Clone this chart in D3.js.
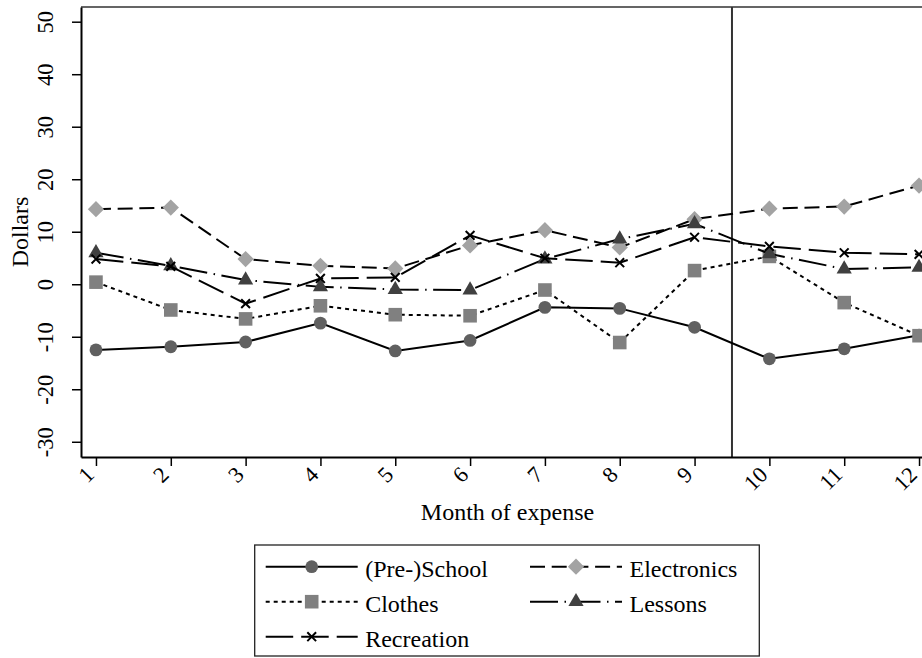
<!DOCTYPE html>
<html>
<head>
<meta charset="utf-8">
<script src="https://cdn.jsdelivr.net/npm/d3@7"></script>
<style>
  html, body { margin: 0; padding: 0; background: #fff; }
  svg { display: block; }
</style>
</head>
<body>
<svg id="chart" width="922" height="658"></svg>
<script>
// Monthly expense differences by category (dollars)
const months = [1, 2, 3, 4, 5, 6, 7, 8, 9, 10, 11, 12];
const preschool   = [-12.5, -11.9, -11.0, -7.4, -12.7, -10.7, -4.4, -4.6, -8.2, -14.2, -12.3, -9.7];
const electronics = [14.3, 14.6, 4.8, 3.5, 3.0, 7.4, 10.3, 7.0, 12.4, 14.4, 14.8, 18.8];
const clothes     = [0.4, -4.9, -6.6, -4.1, -5.8, -6.0, -1.1, -11.1, 2.6, 5.3, -3.5, -9.8];
const lessons     = [6.0, 3.5, 0.8, -0.5, -1.0, -1.1, 4.8, 8.6, 11.5, 5.8, 2.9, 3.2];
const recreation  = [4.8, 3.4, -3.7, 1.1, 1.3, 9.3, 4.95, 4.1, 8.95, 7.2, 6.0, 5.7];
const yTicks = [-30, -20, -10, 0, 10, 20, 30, 40, 50];
const xTicks = months;
const cutoffMonth = 9.5;

const FONT = "'Liberation Serif', 'Times New Roman', Times, 'DejaVu Serif', serif";

// Series drawing order and styling
const series = [
  { name: "(Pre-)School", values: preschool,   dash: null,             symbol: "circle",   fill: "#606060" },
  { name: "Electronics",  values: electronics, dash: "15,6.7",         symbol: "diamond",  fill: "#a3a3a3" },
  { name: "Clothes",      values: clothes,     dash: "4,4",            symbol: "square",   fill: "#808080" },
  { name: "Lessons",      values: lessons,     dash: "28,6.5,1.5,6.5", symbol: "triangle", fill: "#404040" },
  { name: "Recreation",   values: recreation,  dash: "27.5,8",         symbol: "x",        fill: "none" }
];

const svg = d3.select("#chart");
const plot = { left: 81, right: 934, top: 7, bottom: 457 };

const x = d3.scaleLinear().domain([0.8, 12.2]).range([plot.left, plot.right]);
const y = d3.scaleLinear().domain([-32.9, 52.8]).range([plot.bottom, plot.top]);
const plainInt = d => String(d);   // hyphen-minus for negatives

// Plot region outline (top and right)
svg.append("path")
  .attr("d", `M${plot.left},${plot.top}H${plot.right}V${plot.bottom}`)
  .attr("fill", "none").attr("stroke", "#333").attr("stroke-width", 1.3);

// Cutoff line
svg.append("line")
  .attr("x1", x(cutoffMonth)).attr("x2", x(cutoffMonth))
  .attr("y1", plot.top).attr("y2", plot.bottom)
  .attr("stroke", "#333").attr("stroke-width", 2);

// Y axis
const yAxis = svg.append("g")
  .attr("transform", `translate(${plot.left},0)`)
  .call(d3.axisLeft(y).tickValues(yTicks).tickSize(9).tickSizeOuter(0).tickFormat(plainInt));
yAxis.attr("font-family", FONT);
yAxis.select(".domain").attr("stroke", "#000").attr("stroke-width", 2);
yAxis.selectAll(".tick line").attr("stroke", "#000").attr("stroke-width", 1.5);
yAxis.selectAll(".tick text")
  .attr("x", null).attr("dy", null)
  .attr("text-anchor", "middle")
  .attr("transform", "translate(-28,0) rotate(-90)")
  .style("font-family", FONT)
  .style("font-size", "22.5px");

// X axis
const xAxis = svg.append("g")
  .attr("transform", `translate(0,${plot.bottom})`)
  .call(d3.axisBottom(x).tickValues(xTicks).tickSize(9).tickSizeOuter(0).tickFormat(plainInt));
xAxis.attr("font-family", FONT);
xAxis.select(".domain").attr("stroke", "#000").attr("stroke-width", 2);
xAxis.selectAll(".tick line").attr("stroke", "#000").attr("stroke-width", 1.5);
xAxis.selectAll(".tick text")
  .attr("y", null).attr("dy", null)
  .attr("text-anchor", "end")
  .attr("transform", "translate(-1,19) rotate(-45)")
  .style("font-family", FONT)
  .style("font-size", "22.5px");

// Axis titles
svg.append("text")
  .attr("transform", `translate(28,${(plot.top + plot.bottom) / 2}) rotate(-90)`)
  .attr("text-anchor", "middle")
  .style("font-family", FONT)
  .style("font-size", "24px")
  .text("Dollars");
svg.append("text")
  .attr("x", (plot.left + plot.right) / 2).attr("y", 520)
  .attr("text-anchor", "middle")
  .style("font-family", FONT)
  .style("font-size", "24px")
  .text("Month of expense");

// Marker helper
function drawMarker(g, s, cx, cy) {
  if (s.symbol === "circle") {
    g.append("path").attr("d", d3.symbol(d3.symbolCircle, Math.PI * 6.4 * 6.4)())
      .attr("transform", `translate(${cx},${cy})`).attr("fill", s.fill);
  } else if (s.symbol === "square") {
    g.append("path").attr("d", d3.symbol(d3.symbolSquare, 13.6 * 13.6)())
      .attr("transform", `translate(${cx},${cy})`).attr("fill", s.fill);
  } else if (s.symbol === "diamond") {
    g.append("path").attr("d", d3.symbol(d3.symbolSquare, 11.5 * 11.5)())
      .attr("transform", `translate(${cx},${cy}) rotate(45)`).attr("fill", s.fill);
  } else if (s.symbol === "triangle") {
    g.append("path").attr("d", d3.symbol(d3.symbolTriangle, 100)())
      .attr("transform", `translate(${cx},${cy})`).attr("fill", s.fill);
  } else if (s.symbol === "x") {
    g.append("path").attr("d", d3.symbol(d3.symbolX, 52)())
      .attr("transform", `translate(${cx},${cy})`)
      .attr("fill", "none").attr("stroke", "#000").attr("stroke-width", 2);
  }
}

// Series lines and markers
const line = d3.line().x((d, i) => x(months[i])).y(d => y(d));
series.forEach(s => {
  const g = svg.append("g");
  g.append("path")
    .attr("d", line(s.values))
    .attr("fill", "none").attr("stroke", "#000").attr("stroke-width", 2)
    .attr("stroke-dasharray", s.dash);
  s.values.forEach((v, i) => drawMarker(g, s, x(months[i]), y(v)));
});

// Legend
const legend = svg.append("g");
legend.append("rect")
  .attr("x", 254.7).attr("y", 545).attr("width", 504.6).attr("height", 111)
  .attr("fill", "#fff").attr("stroke", "#222").attr("stroke-width", 1.3);
const legendCols = [265.7, 530];
const keyLen = 92;
const rowY = [566.7, 601.7, 636.7];
series.forEach((s, i) => {
  const col = i % 2, row = Math.floor(i / 2);
  const x0 = legendCols[col], cy = rowY[row];
  legend.append("line")
    .attr("x1", x0).attr("x2", x0 + keyLen).attr("y1", cy).attr("y2", cy)
    .attr("stroke", "#000").attr("stroke-width", 2)
    .attr("stroke-dasharray", s.dash);
  drawMarker(legend, s, x0 + keyLen / 2, cy);
  legend.append("text")
    .attr("x", x0 + 99.5).attr("y", cy + 10)
    .style("font-family", FONT)
    .style("font-size", "24px")
    .text(s.name);
});
</script>
</body>
</html>
